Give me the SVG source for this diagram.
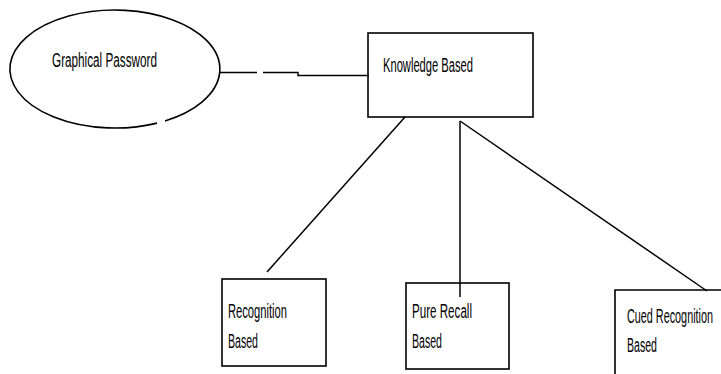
<svg xmlns="http://www.w3.org/2000/svg" width="721" height="374" viewBox="0 0 721 374">
<style>
.shape{fill:none;stroke:#000;stroke-width:1.6}
.conn{fill:none;stroke:#000;stroke-width:1.5}
.lbl{font-family:"Liberation Sans",Arial,sans-serif;font-size:20px;fill:#000}
</style>
<rect x="0" y="0" width="721" height="374" fill="#fff"/>
<g id="connectors">
<line class="conn" x1="220" y1="72.5" x2="257" y2="72.5"/>
<polyline class="conn" points="263,72.5 298,72.5 298,75.5 369,75.5"/>
<line class="conn" x1="405" y1="117" x2="267" y2="272"/>
<line class="conn" x1="460" y1="121" x2="460" y2="297"/>
<line class="conn" x1="460" y1="121" x2="707" y2="291"/>
</g>
<g id="graphical-password">
<path class="shape" d="M165,120.9 A105,59 0 1 0 157,123.1"/>
<text class="lbl" x="52" y="67" textLength="105" lengthAdjust="spacingAndGlyphs">Graphical Password</text>
</g>
<g id="knowledge-based">
<rect class="shape" x="368" y="33" width="165" height="84"/>
<text class="lbl" x="383" y="72" textLength="90" lengthAdjust="spacingAndGlyphs">Knowledge Based</text>
</g>
<g id="recognition-based">
<rect class="shape" x="222" y="279" width="104" height="87"/>
<text class="lbl" x="228" y="318" textLength="59" lengthAdjust="spacingAndGlyphs">Recognition</text>
<text class="lbl" x="228" y="348" textLength="30" lengthAdjust="spacingAndGlyphs">Based</text>
</g>
<g id="pure-recall-based">
<rect class="shape" x="406" y="283" width="103" height="86"/>
<text class="lbl" x="412" y="318" textLength="60" lengthAdjust="spacingAndGlyphs">Pure Recall</text>
<text class="lbl" x="412" y="348" textLength="30" lengthAdjust="spacingAndGlyphs">Based</text>
</g>
<g id="cued-recognition-based">
<polyline class="shape" points="615,376 615,290 723,290"/>
<text class="lbl" x="627" y="323" textLength="86" lengthAdjust="spacingAndGlyphs">Cued Recognition</text>
<text class="lbl" x="627" y="352" textLength="30" lengthAdjust="spacingAndGlyphs">Based</text>
</g>
</svg>
